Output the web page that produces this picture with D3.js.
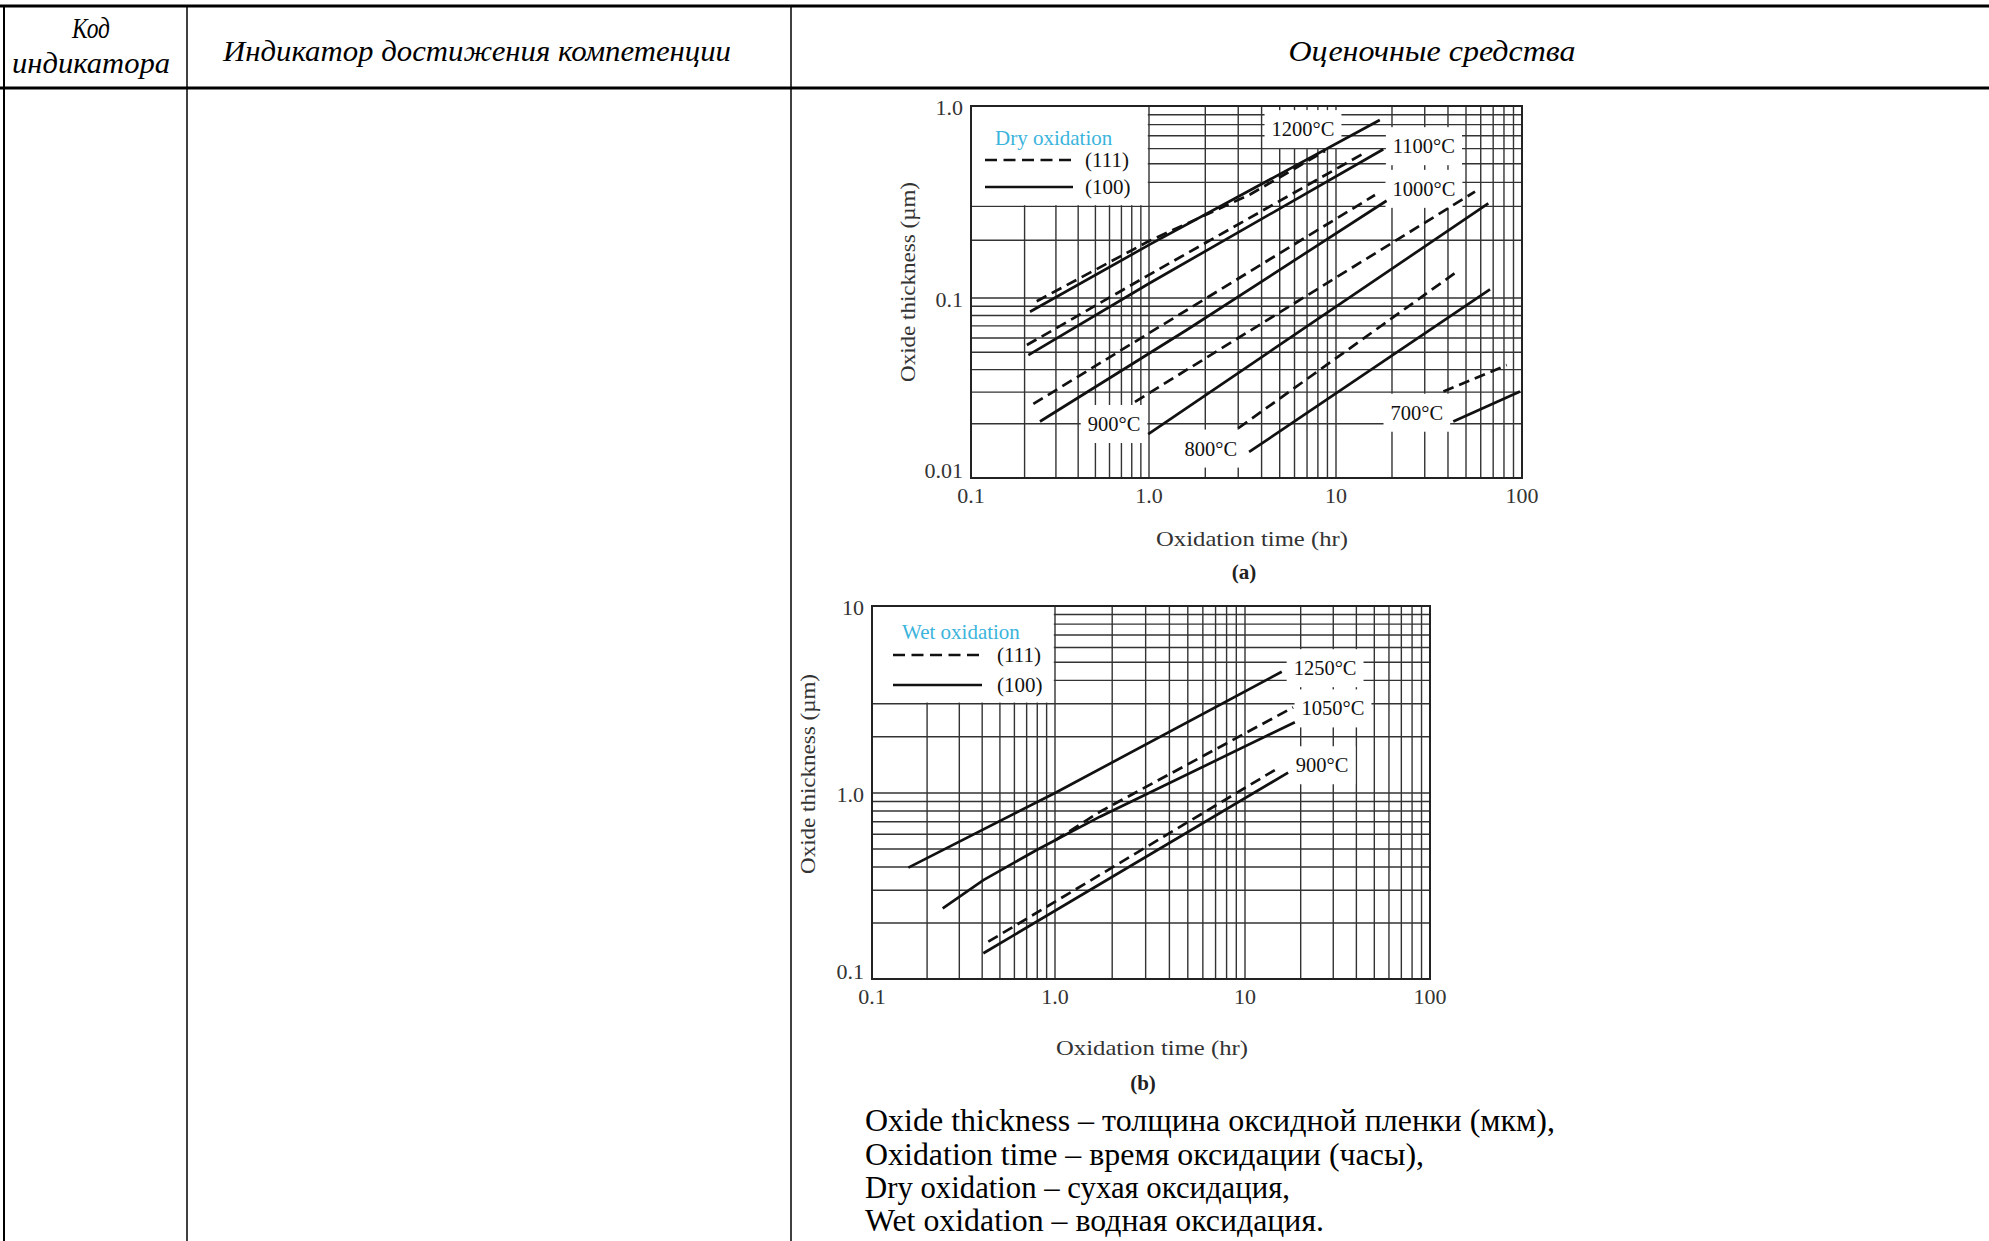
<!DOCTYPE html>
<html><head><meta charset="utf-8">
<script src="https://cdn.jsdelivr.net/npm/d3@7"></script>
<style>body{margin:0;background:#fff;} svg{display:block;}</style>
</head><body>
<svg id="c" width="1989" height="1241"></svg>
<script>
// ---------------- data ----------------
const timeTickLabels = ["0.1", "1.0", "10", "100"];
const timeTickValues = [0.1, 1, 10, 100];
const dryTickLabels = ["0.01", "0.1", "1.0"];
const dryTickValues = [0.01, 0.1, 1];
const wetTickLabels = ["0.1", "1.0", "10"];
const wetTickValues = [0.1, 1, 10];

// Dry oxidation: [time hr, thickness um]
const dryTemps = ["1200", "1100", "1000", "900", "800", "700"];
const dry111_1200 = [[0.234, 0.096], [1.0, 0.198], [3.47, 0.346], [8.74, 0.583]];
const dry100_1200 = [[0.2145, 0.0839], [1.0, 0.189], [17.2, 0.845]];
const dry111_1100 = [[0.206, 0.0548], [1.0, 0.132], [14.6, 0.578]];
const dry100_1100 = [[0.21, 0.0482], [1.0, 0.119], [17.96, 0.595]];
const dry111_1000 = [[0.224, 0.0258], [16.2, 0.344]];
const dry100_1000 = [[0.244, 0.0206], [1.59, 0.0664], [18.7, 0.321]];
const dry111_900 = [[0.834, 0.0265], [55.9, 0.358]];
const dry100_900 = [[0.99, 0.01755], [65.9, 0.311]];
const dry111_800 = [[3.0, 0.0189], [44.6, 0.137]];
const dry100_800 = [[3.43, 0.01395], [67.3, 0.111]];
const dry111_700 = [[37.8, 0.0302], [82.8, 0.0424]];
const dry100_700 = [[42.7, 0.0206], [97.6, 0.0302]];
const dryLabelAt = [[6.66, 0.76], [29.7, 0.619], [29.7, 0.371], [0.636, 0.02], [2.14, 0.0146], [27.2, 0.0231]];

// Wet oxidation
const wetTemps = ["1250", "1050", "900"];
const wet100_1250 = [[0.158, 0.397], [1.0, 1.0], [15.8, 4.45]];
const wet111_1050 = [[1.0, 0.556], [1.725, 0.793], [18.2, 2.87]];
const wet100_1050 = [[0.2434, 0.24], [0.406, 0.34], [0.794, 0.494], [1.725, 0.746], [18.6, 2.39]];
const wet111_900 = [[0.432, 0.1587], [14.5, 1.327]];
const wet100_900 = [[0.406, 0.1375], [17.1, 1.285]];
const wetLabelAt = [[27.1, 4.66], [29.9, 2.84], [26.1, 1.41]];

const headerTexts = ["Код", "индикатора", "Индикатор достижения компетенции", "Оценочные средства"];
const noteLines = [
  "Oxide thickness – толщина оксидной пленки (мкм),",
  "Oxidation time – время оксидации (часы),",
  "Dry oxidation – сухая оксидация,",
  "Wet oxidation – водная оксидация."
];

// ---------------- drawing ----------------
const svg = d3.select("#c");
const SERIF = "'Liberation Serif', 'Times New Roman', serif";

// table
const tbl = svg.append("g");
[[0, 1989, 6, 6, 3], [0, 1989, 88, 88, 3]].forEach(l =>
  tbl.append("line").attr("x1", l[0]).attr("x2", l[1]).attr("y1", l[2]).attr("y2", l[3])
    .attr("stroke", "#000").attr("stroke-width", l[4]));
[[4, 2], [187, 1.5], [791, 1.5]].forEach(l =>
  tbl.append("line").attr("x1", l[0]).attr("x2", l[0]).attr("y1", 6).attr("y2", 1241)
    .attr("stroke", "#000").attr("stroke-width", l[1]));

function txt(g, x, y, s, o) {
  o = o || {};
  const t = g.append("text").attr("x", x).attr("y", y).attr("dy", "0.35em")
    .attr("font-family", o.family || SERIF).attr("font-size", o.size || 20)
    .attr("text-anchor", o.anchor || "middle").attr("fill", o.fill || "#111").text(s);
  if (o.italic) t.attr("font-style", "italic");
  if (o.bold) t.attr("font-weight", "bold");
  if (o.len) t.attr("textLength", o.len).attr("lengthAdjust", "spacingAndGlyphs");
  if (o.rotate) t.attr("transform", `rotate(-90 ${x} ${y})`);
  return t;
}

txt(tbl, 91, 28, headerTexts[0], {italic: true, size: 29, len: 38, fill: "#000"});
txt(tbl, 91, 63, headerTexts[1], {italic: true, size: 29, len: 158, fill: "#000"});
txt(tbl, 477, 51, headerTexts[2], {italic: true, size: 29, len: 508, fill: "#000"});
txt(tbl, 1432, 51, headerTexts[3], {italic: true, size: 29, len: 287, fill: "#000"});

const noteY = [1120, 1154, 1187, 1220];
const noteW = [690, 559, 425, 459];
noteLines.forEach((s, i) => txt(tbl, 865, noteY[i], s, {anchor: "start", size: 31, len: noteW[i], fill: "#000"}));

function drawChart(o) {
  const x = d3.scaleLog().domain(o.xDomain).range(o.xRange);
  const y = d3.scaleLog().domain(o.yDomain).range(o.yRange);
  const g = svg.append("g");
  const xl = o.xRange[0], xr = o.xRange[o.xRange.length - 1];
  const yb = o.yRange[0], yt = o.yRange[o.yRange.length - 1];

  const xGrid = [], yGrid = [];
  for (let i = 0; i < o.xDomain.length - 1; i++) for (let m = 1; m < 10; m++) xGrid.push(o.xDomain[i] * m);
  for (let i = 0; i < o.yDomain.length - 1; i++) for (let m = 1; m < 10; m++) yGrid.push(o.yDomain[i] * m);

  const grid = g.append("g").attr("stroke", "#333").attr("stroke-width", 1.4);
  grid.selectAll("line.v").data(xGrid).join("line").attr("class", "v")
    .attr("x1", d => x(d)).attr("x2", d => x(d)).attr("y1", yt).attr("y2", yb);
  grid.selectAll("line.h").data(yGrid).join("line").attr("class", "h")
    .attr("y1", d => y(d)).attr("y2", d => y(d)).attr("x1", xl).attr("x2", xr);

  // legend white box
  const lb = o.legendBox;
  const bx0 = x(lb[0][0]), bx1 = x(lb[1][0]), by0 = y(lb[1][1]), by1 = y(lb[0][1]);
  g.append("rect").attr("x", bx0 + 1).attr("y", by0 + 1).attr("width", bx1 - bx0 - 2.2).attr("height", by1 - by0 - 2.2).attr("fill", "#fff");

  const boxG = g.append("g");
  g.append("rect").attr("x", xl).attr("y", yt).attr("width", xr - xl).attr("height", yb - yt)
    .attr("fill", "none").attr("stroke", "#222").attr("stroke-width", 2);
  const lineG = g.append("g");
  const textG = g.append("g");

  const line = d3.line().x(d => x(d[0])).y(d => y(d[1]));
  o.series.forEach(s => {
    lineG.append("path").attr("d", line(s.pts)).attr("fill", "none").attr("stroke", "#111")
      .attr("stroke-width", 2.7).attr("stroke-dasharray", s.dashed ? "11,6" : null);
  });

  // temperature labels with white boxes
  o.labels.forEach((l, i) => {
    const t = txt(textG, x(l.at[0]), y(l.at[1]), l.text + "°C", {size: 20.5});
    const bb = t.node().getBBox();
    boxG.append("rect").attr("x", bb.x - 7).attr("y", bb.y - 8).attr("width", bb.width + 14).attr("height", bb.height + 16).attr("fill", "#fff");
  });

  // legend content
  const L = o.legend;
  txt(textG, bx0 + L.tx, by0 + L.ty, o.title, {anchor: "start", size: 21, fill: "#3bb4dc"});
  textG.append("line").attr("x1", bx0 + L.sx0).attr("x2", bx0 + L.sx1).attr("y1", by0 + L.y1).attr("y2", by0 + L.y1)
    .attr("stroke", "#111").attr("stroke-width", 2.4).attr("stroke-dasharray", "12,6.5");
  textG.append("line").attr("x1", bx0 + L.sx0).attr("x2", bx0 + L.sx1).attr("y1", by0 + L.y2).attr("y2", by0 + L.y2)
    .attr("stroke", "#111").attr("stroke-width", 2.4);
  txt(textG, bx0 + L.lx, by0 + L.y1, "(111)", {anchor: "start", size: 21});
  txt(textG, bx0 + L.lx, by0 + L.y2, "(100)", {anchor: "start", size: 21});

  // ticks
  timeTickValues.forEach((v, i) => txt(textG, x(v), yb + 17, timeTickLabels[i], {size: 22, fill: "#333"}));
  o.yTickValues.forEach((v, i) => txt(textG, xl - 8, y(v) + (i === 0 ? -8 : 1), o.yTickLabels[i], {anchor: "end", size: 22, fill: "#333"}));

  txt(textG, o.xTitle[0], o.xTitle[1], "Oxidation time (hr)", {size: 22, len: 192, fill: "#333"});
  txt(textG, o.yTitle[0], o.yTitle[1], "Oxide thickness (µm)", {size: 22, len: 200, rotate: true, fill: "#333"});
  txt(textG, o.tag[0], o.tag[1], o.tag[2], {size: 21, bold: true, fill: "#222"});
}

drawChart({
  xDomain: [0.1, 1, 10, 100], xRange: [971, 1149, 1336, 1522],
  yDomain: [0.01, 0.1, 1], yRange: [478, 298, 106],
  yTickValues: dryTickValues, yTickLabels: dryTickLabels,
  legendBox: [[0.1, 0.3], [1, 1]],
  title: "Dry oxidation",
  legend: {tx: 24, ty: 32, sx0: 14, sx1: 102, y1: 54, y2: 81, lx: 114},
  series: [
    {pts: dry111_1200, dashed: true}, {pts: dry100_1200},
    {pts: dry111_1100, dashed: true}, {pts: dry100_1100},
    {pts: dry111_1000, dashed: true}, {pts: dry100_1000},
    {pts: dry111_900, dashed: true}, {pts: dry100_900},
    {pts: dry111_800, dashed: true}, {pts: dry100_800},
    {pts: dry111_700, dashed: true}, {pts: dry100_700}
  ],
  labels: dryTemps.map((t, i) => ({text: t, at: dryLabelAt[i]})),
  xTitle: [1252, 538], yTitle: [907, 282], tag: [1244, 572, "(a)"]
});

drawChart({
  xDomain: [0.1, 1, 10, 100], xRange: [872, 1055, 1245, 1430],
  yDomain: [0.1, 1, 10], yRange: [979, 793, 606],
  yTickValues: wetTickValues, yTickLabels: wetTickLabels,
  legendBox: [[0.1, 3], [1, 10]],
  title: "Wet oxidation",
  legend: {tx: 30, ty: 26, sx0: 21, sx1: 110, y1: 49, y2: 79, lx: 125},
  series: [
    {pts: wet100_1250},
    {pts: wet111_1050, dashed: true}, {pts: wet100_1050},
    {pts: wet111_900, dashed: true}, {pts: wet100_900}
  ],
  labels: wetTemps.map((t, i) => ({text: t, at: wetLabelAt[i]})),
  xTitle: [1152, 1047], yTitle: [807, 774], tag: [1143, 1083, "(b)"]
});
</script>
</body></html>
